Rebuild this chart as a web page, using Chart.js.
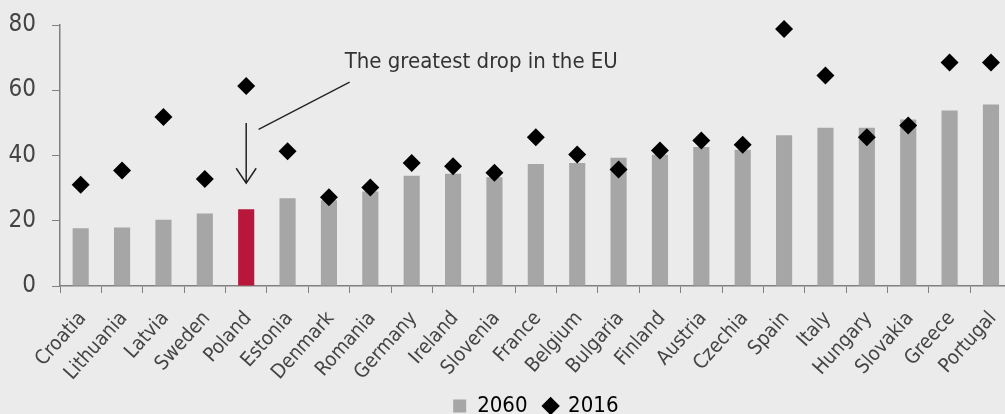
<!DOCTYPE html>
<html>
<head>
<meta charset="utf-8">
<script src="https://cdn.jsdelivr.net/npm/chart.js@4/dist/chart.umd.min.js"></script>
<style>
  html, body { margin: 0; padding: 0; background: #ebebeb; overflow: hidden; }
  #wrap { width: 1023px; height: 414px; }
</style>
</head>
<body>
<div id="wrap"><canvas id="myChart"></canvas></div>
<script>
const countries = ['Croatia', 'Lithuania', 'Latvia', 'Sweden', 'Poland', 'Estonia', 'Denmark', 'Romania',
  'Germany', 'Ireland', 'Slovenia', 'France', 'Belgium', 'Bulgaria', 'Finland', 'Austria', 'Czechia',
  'Spain', 'Italy', 'Hungary', 'Slovakia', 'Greece', 'Portugal']
const values2060 = [17.7, 17.9, 20.3, 22.2, 23.5, 26.9, 26.3, 29.0, 33.8, 34.4, 33.3, 37.4, 37.7, 39.3,
  40.2, 42.6, 41.8, 46.2, 48.5, 48.5, 51.0, 53.8, 55.6]
const values2016 = [31.0, 35.4, 51.8, 32.8, 61.3, 41.3, 27.2, 30.2, 37.7, 36.7, 34.7, 45.6, 40.3, 35.7,
  41.5, 44.6, 43.3, 78.8, 64.5, 45.6, 49.2, 68.5, 68.5]
const yTicks = [0, 20, 40, 60, 80]
const highlight = 'Poland'

const font = "'Liberation Sans Narrow', 'DejaVu Sans Condensed', sans-serif"
const grey = '#a6a6a6'
const red = '#b8173b'

// arrow + leader line + caption, placed in data units
const annotation = {
  id: 'annotation',
  afterLayout(chart) {
    // centre the legend under the plot area rather than the whole canvas
    const lg = chart.legend
    const shift = (chart.chartArea.left + chart.chartArea.right) / 2 - (lg.left + lg.right) / 2
    lg.left += shift
    lg.right += shift
  },
  afterDatasetsDraw(chart) {
    const x = chart.scales.x
    const y = chart.scales.y
    const ctx = chart.ctx
    const i = countries.indexOf(highlight)
    const px = x.getPixelForValue(i)
    const step = x.getPixelForValue(i + 1) - px
    ctx.save()
    ctx.strokeStyle = '#222'
    ctx.lineWidth = 1.5
    // vertical arrow
    const yTop = y.getPixelForValue(50)
    const yTip = y.getPixelForValue(31.5)
    ctx.beginPath()
    ctx.moveTo(px, yTop)
    ctx.lineTo(px, yTip)
    ctx.moveTo(px - 10, yTip - 15)
    ctx.lineTo(px, yTip)
    ctx.lineTo(px + 10, yTip - 15)
    ctx.stroke()
    // leader line
    ctx.lineWidth = 1.3
    ctx.beginPath()
    ctx.moveTo(px + step * 0.3, y.getPixelForValue(48))
    ctx.lineTo(px + step * 2.5, y.getPixelForValue(62.5))
    ctx.stroke()
    // caption
    ctx.fillStyle = '#333'
    ctx.font = '22px ' + font
    ctx.textBaseline = 'middle'
    ctx.textAlign = 'left'
    ctx.fillText('The greatest drop in the EU', px + step * 2.38, y.getPixelForValue(68.6))
    ctx.restore()
  }
}

const data = {
  labels: countries,
  datasets: [{
    type: 'line',
    label: '2016',
    data: values2016,
    showLine: false,
    clip: false,
    pointStyle: 'rectRot',
    pointRadius: 9,
    pointHoverRadius: 9,
    backgroundColor: '#000',
    borderColor: '#000',
    borderWidth: 0,
    order: 0
  }, {
    type: 'bar',
    label: '2060',
    data: values2060,
    backgroundColor: countries.map(c => c === highlight ? red : grey),
    pointStyle: 'rect',
    categoryPercentage: 1,
    barPercentage: 0.39,
    order: 1
  }]
}

const config = {
  type: 'bar',
  data: data,
  plugins: [annotation],
  options: {
    responsive: true,
    maintainAspectRatio: false,
    animation: false,
    layout: { padding: { top: 25, left: 0, right: 0, bottom: -13 } },
    scales: {
      x: {
        afterFit: axis => { axis.height = 105 },
        grid: { display: true, drawOnChartArea: false, drawTicks: true, tickLength: 7, color: '#808080' },
        border: { display: true, color: '#808080', width: 1.5 },
        ticks: {
          color: '#444',
          font: { family: font, size: 20 },
          maxRotation: 48,
          minRotation: 48,
          autoSkip: false,
          labelOffset: 2,
          padding: 14
        }
      },
      y: {
        min: 0,
        max: 80,
        afterFit: axis => {
          axis.width = 60
          axis.paddingTop = 0
          axis.paddingBottom = 0
        },
        afterBuildTicks: axis => { axis.ticks = yTicks.map(v => ({ value: v })) },
        grid: { display: true, drawOnChartArea: false, drawTicks: true, tickLength: 8, color: '#808080' },
        border: { display: true, color: '#808080', width: 1.5 },
        ticks: {
          color: '#444',
          font: { family: font, size: 24 },
          padding: 16
        }
      }
    },
    plugins: {
      legend: {
        position: 'bottom',
        reverse: true,
        labels: {
          usePointStyle: true,
          boxWidth: 13,
          boxHeight: 13,
          padding: 4,
          color: '#444',
          font: { family: font, size: 22 },
          // trailing spaces widen the gap between the two entries
          generateLabels: chart => chart.data.datasets.map((ds, i) => ({
            text: ds.type === 'bar' ? ds.label + '  ' : ds.label,
            fillStyle: ds.type === 'bar' ? grey : '#000',
            strokeStyle: ds.type === 'bar' ? grey : '#000',
            lineWidth: 0,
            pointStyle: ds.pointStyle,
            datasetIndex: i
          }))
        }
      },
      tooltip: { enabled: false }
    }
  }
}

const myChart = new Chart(document.getElementById('myChart'), config)
</script>
</body>
</html>
